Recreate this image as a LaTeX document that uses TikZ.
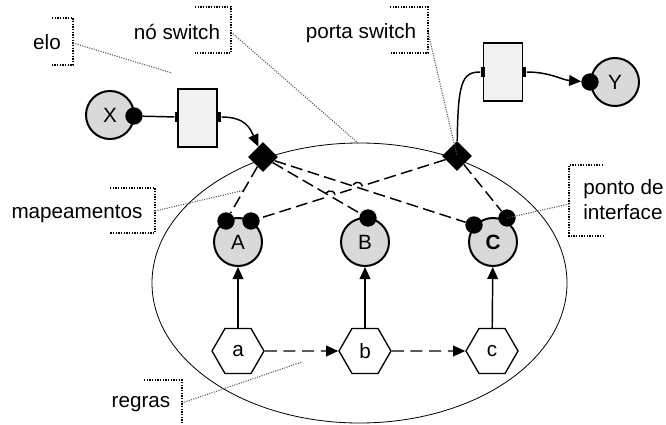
\documentclass[tikz,border=0pt]{standalone}
\usepackage{fontspec}
\setmainfont{Liberation Sans}
\usepackage{xcolor}
\usepackage{tikz}
\usetikzlibrary{arrows.meta, shapes.geometric, calc}
\definecolor{figFill}{RGB}{217,217,217}
\definecolor{figBox}{RGB}{242,242,242}
\definecolor{figNote}{RGB}{85,85,85}
\tikzset{
  comp/.style={circle, draw, line width=1.5pt, fill=figFill, minimum size=36pt, inner sep=0pt},
  ipoint/.style={circle, fill=black, minimum size=13pt, inner sep=0pt},
  linkbox/.style={rectangle, draw, line width=1.1pt, fill=figBox, minimum width=29pt, minimum height=43.5pt, inner sep=0pt},
  lport/.style={rectangle, fill=black, minimum width=3.5pt, minimum height=8pt, inner sep=0pt},
  swport/.style={diamond, fill=black, minimum size=22.5pt, inner sep=0pt},
  rulehex/.style={regular polygon, regular polygon sides=6, draw, line width=1pt, fill=white, minimum size=39pt, inner sep=0pt},
  note/.style={inner sep=0pt},
  bracket/.style={densely dotted, line width=1pt},
  calloutline/.style={densely dotted, line width=0.8pt, figNote},
  mapline/.style={dash pattern=on 9pt off 4pt, line width=1.1pt},
  bind/.style={-{Triangle[length=9pt,width=8pt]}, line width=1.1pt},
}

\begin{document}
\begin{tikzpicture}[x=0.75pt, y=-0.75pt, font=\fontsize{15.5}{18.75}\selectfont]
\useasboundingbox (0,0) rectangle (666,424);
% switch node boundary
\draw[line width=0.6pt] (359.5,283) ellipse [x radius=207.5, y radius=140];
% outer components and links
\node[comp] (X) at (110,115) {X};
\node[ipoint] (dX) at (134,116) {};
\node[linkbox] (linkL) at (197.5,118) {};
\node[lport] (pL1) at (177,117) {};
\node[lport] (pL2) at (219,117) {};
\node[comp] (Y) at (615,82) {Y};
\node[ipoint] (dY) at (590,82) {};
\node[linkbox] (linkR) at (503,72) {};
\node[lport] (pR1) at (483,72) {};
\node[lport] (pR2) at (524,72) {};
\node[swport] (swL) at (263,157) {};
\node[swport] (swR) at (457,156) {};
\draw[line width=1.1pt] (dX) -- (pL1);
\draw[bind] (pL2) .. controls (245,117) and (250,128) .. (swL);
\draw[line width=1.1pt] (swR) .. controls (458,82) and (462,72) .. (pR1);
\draw[bind] (pR2) .. controls (550,72) and (562,80) .. (dY);
% inner components, rules and interface points
\foreach \n/\lbl/\x in {A/A/238, B/B/365, C/\textbf{C}/493}
  \node[comp] (\n) at (\x,242) {\lbl};
\foreach \n/\x in {a/238, b/365, c/492}
  \node[rulehex] (h\n) at (\x,351) {\n};
\node[ipoint] (dA1) at (226,221) {};
\node[ipoint] (dA2) at (251,221) {};
\node[ipoint] (dB) at (368,218) {};
\node[ipoint] (dC1) at (474,225) {};
\node[ipoint] (dC2) at (507,218) {};
\foreach \r/\c in {ha/A, hb/B, hc/C}
  \draw[bind] (\r) -- (\c);
\draw[bind, dash pattern=on 9pt off 5pt] (ha) -- (hb);
\draw[bind, dash pattern=on 9pt off 5pt] (hb) -- (hc);
% mappings (with line hops)
\coordinate (hop1a) at (362.2,185.9);
\coordinate (hop1b) at (352.6,188.9);
\coordinate (hop2a) at (335.0,194.5);
\coordinate (hop2b) at (325.4,197.5);
\draw[mapline] (swL) -- (dA1);
\draw[mapline] (swL) -- (dB);
\draw[mapline] (swL) -- (dC1);
\draw[mapline] (swR) -- (dC2);
\draw[mapline] (swR) -- (hop1a) .. controls (360.2,179.5) and (350.6,182.5) .. (hop1b)
  -- (hop2a) .. controls (333.0,188.1) and (323.4,191.1) .. (hop2b) -- (dA2);
% labels with brackets
\node[note, anchor=base] (tElo) at (47,50) {elo};
\node[note, anchor=base] (tNo) at (177,40) {nó switch};
\node[note, anchor=base] (tPorta) at (361,39) {porta switch};
\node[note, anchor=base] (tMap) at (77,218) {mapeamentos};
\node[note, anchor=base] (tRegras) at (141,407) {regras};
\node[note, anchor=base west, align=left] (tPonto) at (583,219) {ponto de\\interface};
\draw[bracket] (52,18) -| (73,65) -- (52,65);
\draw[bracket] (195,7) -| (231,53) -- (195,53);
\draw[bracket] (390,7) -| (428,53) -- (390,53);
\draw[bracket] (110,188) -| (155,233) -- (110,233);
\draw[bracket] (144,380) -| (182,424);
\draw[bracket] (603,165) -| (569,236) -- (603,236);
\coordinate (cElo) at (73,43);
\coordinate (cNo) at (231,32);
\coordinate (cPorta) at (428,32);
\coordinate (cMap) at (155,211);
\coordinate (cRegras) at (182,403);
\coordinate (cPonto) at (569,204);
\coordinate (eloEnd) at (172,73);
\coordinate (noEnd) at (358,143);
\coordinate (mapEnd) at (245,190);
\coordinate (regrasEnd) at (302,362);
\draw[calloutline] (cElo) -- (eloEnd);
\draw[calloutline] (cNo) -- (noEnd);
\draw[calloutline] (cPorta) -- (swR.center);
\draw[calloutline] (cMap) -- (mapEnd);
\draw[calloutline] (cRegras) -- (regrasEnd);
\draw[calloutline] (cPonto) -- (dC2.center);
\end{tikzpicture}
\end{document}
